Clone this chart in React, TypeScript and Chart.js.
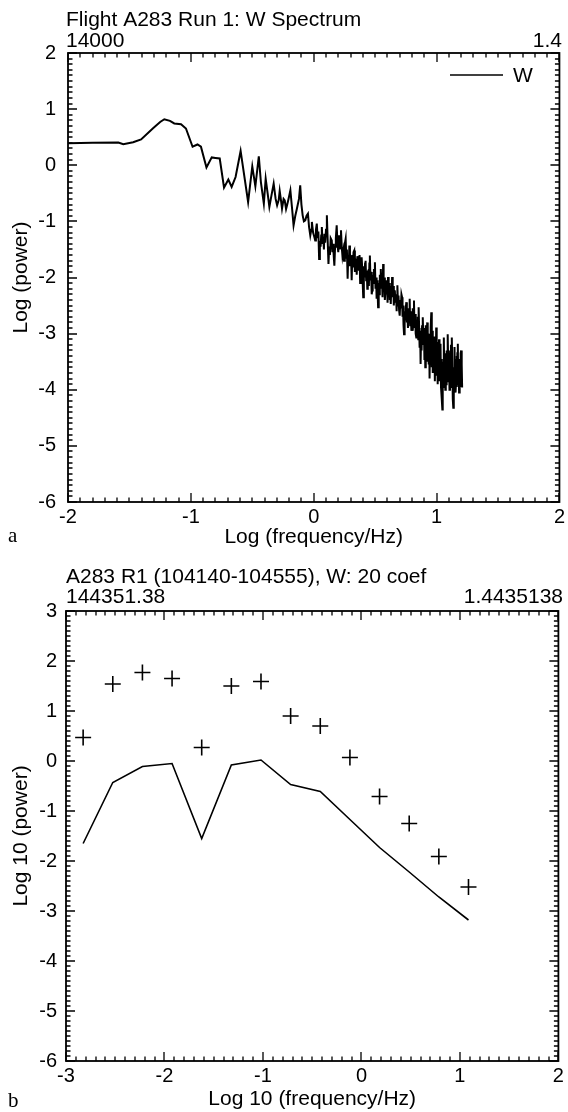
import React, { useEffect, useRef } from "react";
import { Chart, registerables } from "chart.js";

Chart.register(...registerables);

const SANS = '"Liberation Sans", Arial, Helvetica, sans-serif';
const SERIF = '"Liberation Serif", "DejaVu Serif", Times, serif';

// ---------- Panel a: W spectrum (log frequency vs log power) ----------
const wLogFreq = [
  -2.0, -1.8, -1.59, -1.55, -1.47, -1.405, -1.31, -1.25, -1.216, -1.17,
  -1.135, -1.08, -1.04, -0.986, -0.946, -0.918, -0.873, -0.83, -0.8, -0.765,
  -0.73, -0.695, -0.668, -0.636, -0.595, -0.534, -0.5, -0.475, -0.447, -0.43,
  -0.406, -0.391, -0.375, -0.361, -0.345, -0.326, -0.31, -0.298, -0.285, -0.277,
  -0.265, -0.258, -0.245, -0.236, -0.225, -0.217, -0.205, -0.19, -0.175, -0.164,
  -0.15, -0.137, -0.12, -0.11, -0.1, -0.09, -0.08, -0.069, -0.058, -0.047,
  -0.038, -0.028, -0.02, -0.015, -0.005, 0.005, 0.012, 0.018, 0.025, 0.032,
  0.038, 0.044, 0.05, 0.056, 0.061, 0.066, 0.072, 0.078, 0.083, 0.087,
  0.093, 0.1, 0.107, 0.113, 0.12, 0.126, 0.132, 0.138, 0.147, 0.152,
  0.158, 0.163, 0.168, 0.174, 0.18, 0.187, 0.193, 0.2, 0.206, 0.212,
  0.217, 0.222, 0.228, 0.234, 0.241, 0.247, 0.253, 0.26, 0.265, 0.27,
  0.276, 0.281, 0.286, 0.29, 0.295, 0.3, 0.305, 0.309, 0.314, 0.319,
  0.324, 0.33, 0.335, 0.34, 0.345, 0.35, 0.355, 0.36, 0.364, 0.368,
  0.373, 0.378, 0.383, 0.387, 0.39, 0.395, 0.399, 0.403, 0.408, 0.413,
  0.418, 0.422, 0.427, 0.432, 0.436, 0.44, 0.444, 0.449, 0.453, 0.457,
  0.462, 0.467, 0.472, 0.476, 0.48, 0.485, 0.49, 0.494, 0.498, 0.503,
  0.508, 0.512, 0.516, 0.52, 0.524, 0.529, 0.534, 0.538, 0.542, 0.546,
  0.551, 0.556, 0.56, 0.565, 0.569, 0.574, 0.579, 0.584, 0.588, 0.593,
  0.597, 0.601, 0.605, 0.61, 0.615, 0.619, 0.623, 0.627, 0.632, 0.635,
  0.638, 0.643, 0.648, 0.652, 0.656, 0.66, 0.665, 0.67, 0.675, 0.678,
  0.681, 0.686, 0.69, 0.695, 0.7, 0.705, 0.709, 0.714, 0.719, 0.723,
  0.727, 0.731, 0.735, 0.74, 0.744, 0.749, 0.754, 0.758, 0.762, 0.767,
  0.771, 0.776, 0.781, 0.785, 0.79, 0.795, 0.8, 0.804, 0.808, 0.812,
  0.816, 0.82, 0.825, 0.83, 0.835, 0.839, 0.843, 0.847, 0.851, 0.854,
  0.858, 0.862, 0.866, 0.87, 0.874, 0.878, 0.882, 0.886, 0.889, 0.893,
  0.897, 0.901, 0.905, 0.908, 0.912, 0.916, 0.92, 0.924, 0.928, 0.932,
  0.936, 0.94, 0.943, 0.947, 0.95, 0.954, 0.957, 0.961, 0.965, 0.969,
  0.973, 0.978, 0.982, 0.986, 0.99, 0.993, 0.997, 1.001, 1.005, 1.009,
  1.012, 1.016, 1.02, 1.024, 1.028, 1.032, 1.036, 1.04, 1.043, 1.047,
  1.05, 1.054, 1.059, 1.063, 1.067, 1.071, 1.075, 1.078, 1.082, 1.086,
  1.089, 1.092, 1.096, 1.1, 1.105, 1.109, 1.113, 1.117, 1.12, 1.124,
  1.128, 1.132, 1.136, 1.14, 1.143, 1.146, 1.15, 1.153, 1.156, 1.159,
  1.163, 1.166, 1.169, 1.173, 1.176, 1.18, 1.183, 1.186, 1.19, 1.193,
  1.196, 1.2, 1.203, 1.206, 1.208,
];
const wLogPower = [
  0.39, 0.4, 0.405, 0.375, 0.41, 0.46, 0.655, 0.77, 0.82, 0.79,
  0.745, 0.73, 0.655, 0.33, 0.37, 0.33, -0.04, 0.14, 0.13, 0.12,
  -0.4, -0.255, -0.385, -0.21, 0.255, -0.655, -0.02, -0.375, 0.16, -0.3,
  -0.684, -0.238, -0.5, -0.744, -0.55, -0.327, -0.6, -0.714, -0.62, -0.458,
  -0.65, -0.774, -0.6, -0.625, -0.78, -0.714, -0.6, -0.446, -0.8, -1.071,
  -0.9, -0.774, -0.6, -0.357, -0.7, -0.893, -1.0, -0.982, -0.9, -0.863,
  -1.1, -1.25, -1.15, -1.01, -1.2, -1.28, -1.34, -1.15, -1.04, -1.3,
  -1.18, -1.67, -1.35, -1.45, -1.25, -1.1, -1.4, -1.28, -1.5, -1.22,
  -1.38, -1.15, -0.89, -1.3, -1.76, -1.45, -1.6, -1.3, -1.34, -1.55,
  -1.4, -1.62, -1.79, -1.45, -1.3, -1.07, -1.4, -1.55, -1.25, -1.5,
  -1.35, -1.16, -1.45, -1.62, -1.52, -1.7, -1.4, -1.31, -1.65, -1.5,
  -2.02, -1.6, -1.75, -1.43, -1.8, -1.65, -1.72, -2.05, -1.6, -1.82,
  -1.55, -1.52, -1.9, -1.68, -1.7, -1.95, -1.62, -1.85, -1.74, -1.88,
  -1.6, -2.1, -1.78, -1.95, -1.64, -1.85, -2.12, -2.35, -1.8, -2.0,
  -1.75, -1.7, -2.05, -1.88, -2.2, -1.9, -1.88, -2.15, -1.75, -1.61,
  -2.05, -1.9, -2.3, -2.23, -1.95, -2.1, -1.85, -2.02, -1.73, -2.2,
  -2.0, -2.38, -2.05, -2.25, -2.53, -2.1, -2.3, -1.95, -2.15, -1.85,
  -2.2, -2.05, -2.35, -1.76, -2.1, -2.0, -2.4, -2.23, -2.05, -2.3,
  -2.12, -2.45, -1.99, -2.25, -2.1, -2.4, -2.2, -2.47, -2.15, -2.3,
  -1.99, -2.35, -2.15, -2.5, -2.28, -2.23, -2.45, -2.3, -2.6, -2.35,
  -2.14, -2.5, -2.32, -2.58, -2.68, -2.4, -2.55, -2.3, -2.35, -2.7,
  -2.5, -2.85, -3.01, -2.6, -2.75, -2.55, -2.44, -2.8, -2.62, -2.9,
  -2.55, -2.8, -2.38, -2.85, -2.6, -2.95, -2.83, -2.55, -2.95, -2.7,
  -2.41, -2.9, -2.65, -3.0, -3.07, -2.75, -3.05, -2.7, -3.1, -2.53,
  -2.9, -3.25, -2.95, -3.54, -3.0, -3.3, -2.85, -3.2, -2.71, -3.15,
  -2.9, -3.45, -3.0, -3.6, -2.85, -3.35, -3.05, -2.8, -3.5, -3.0,
  -3.55, -3.15, -3.8, -3.1, -3.5, -2.9, -2.62, -3.6, -2.95, -3.7,
  -3.1, -3.65, -3.05, -3.85, -3.2, -3.6, -2.89, -3.75, -3.15, -3.9,
  -3.25, -3.7, -3.1, -3.85, -3.3, -3.18, -3.95, -3.45, -4.14, -4.35,
  -3.5, -3.95, -3.07, -3.8, -3.35, -4.0, -3.4, -3.9, -3.3, -3.85,
  -3.2, -3.01, -3.75, -3.3, -4.0, -3.35, -3.85, -3.2, -3.95, -3.07,
  -3.6, -4.17, -4.32, -3.6, -3.9, -3.24, -3.95, -3.45, -4.05, -3.84,
  -3.4, -3.95, -3.35, -3.18, -3.9, -3.45, -4.05, -4.02, -3.5, -3.9,
  -3.35, -3.3, -3.95, -3.55, -3.96,
];

// ---------- Panel b: 20-coefficient estimate ----------
const bLogFreq = [-2.826, -2.525, -2.224, -1.923, -1.622, -1.321, -1.02, -0.719, -0.418, -0.117, 0.184, 0.485, 0.786, 1.087];
const bCoefPower = [0.47, 1.54, 1.77, 1.65, 0.27, 1.5, 1.59, 0.9, 0.7, 0.07, -0.71, -1.25, -1.91, -2.52];
const bLinePower = [-1.65, -0.43, -0.11, -0.05, -1.55, -0.08, 0.02, -0.47, -0.61, -1.17, -1.73, -2.22, -2.72, -3.18];

const W = 568;
const H = 556;

const framePlugin = {
  id: "frame",
  afterDraw(chart: any) {
    const o = chart.options.plugins.frame;
    if (!o) return;
    const { ctx, chartArea } = chart;
    const { left, right, top, bottom } = chartArea;
    const xs = chart.scales.x;
    const ys = chart.scales.y;
    ctx.save();
    ctx.strokeStyle = "#000";
    ctx.lineWidth = 1.3;
    ctx.beginPath();
    for (let i = Math.round(xs.min * 10); i <= Math.round(xs.max * 10); i++) {
      const px = Math.round(xs.getPixelForValue(i / 10));
      const len = i % 10 === 0 ? 9 : 4.5;
      ctx.moveTo(px, bottom);
      ctx.lineTo(px, bottom - len);
      ctx.moveTo(px, top);
      ctx.lineTo(px, top + len);
    }
    for (let i = Math.round(ys.min * 10); i <= Math.round(ys.max * 10); i++) {
      const py = Math.round(ys.getPixelForValue(i / 10));
      const len = i % 10 === 0 ? 9 : 4.5;
      ctx.moveTo(left, py);
      ctx.lineTo(left + len, py);
      ctx.moveTo(right, py);
      ctx.lineTo(right - len, py);
    }
    ctx.stroke();
    ctx.lineWidth = 1.8;
    ctx.strokeRect(left, top, right - left, bottom - top);

    ctx.fillStyle = "#000";
    ctx.textBaseline = "alphabetic";
    for (const t of o.texts) {
      ctx.font = t.font;
      ctx.textAlign = t.align;
      ctx.fillText(t.text, t.x, t.y);
    }
    if (o.legend) {
      const lg = o.legend;
      ctx.lineWidth = 1.5;
      ctx.beginPath();
      ctx.moveTo(lg.x1, lg.y);
      ctx.lineTo(lg.x2, lg.y);
      ctx.stroke();
      ctx.font = `21px ${SANS}`;
      ctx.textAlign = "left";
      ctx.textBaseline = "middle";
      ctx.fillText(lg.label, lg.x2 + 10, lg.y + 1);
    }
    ctx.restore();
  },
};

function makeConfig(p: any) {
  const tickFont = { family: SANS, size: 20 };
  const titleFont = { family: SANS, size: 21 };
  return {
    type: "scatter",
    data: { datasets: p.datasets },
    options: {
      responsive: false,
      maintainAspectRatio: false,
      animation: false,
      events: [],
      layout: {
        padding: { left: 0, top: p.area.top, right: W - p.area.right, bottom: 0 },
      },
      plugins: {
        legend: { display: false },
        tooltip: { enabled: false },
        title: { display: false },
        frame: { texts: p.texts, legend: p.legend },
      },
      scales: {
        x: {
          type: "linear",
          min: p.xMin,
          max: p.xMax,
          afterFit: (s: any) => {
            s.height = H - p.area.bottom;
          },
          grid: { display: false, drawTicks: false },
          border: { display: false },
          ticks: { stepSize: 1, color: "#000", font: tickFont, padding: 3, maxRotation: 0 },
          title: {
            display: true,
            text: p.xTitle,
            color: "#000",
            font: titleFont,
            padding: { top: 0, bottom: p.xTitlePad },
          },
        },
        y: {
          type: "linear",
          min: p.yMin,
          max: p.yMax,
          afterFit: (s: any) => {
            s.width = p.area.left;
          },
          grid: { display: false, drawTicks: false },
          border: { display: false },
          ticks: { stepSize: 1, color: "#000", font: tickFont, padding: p.yTickPad },
          title: {
            display: true,
            text: p.yTitle,
            color: "#000",
            font: titleFont,
            padding: { top: 9, bottom: 0 },
          },
        },
      },
    },
    plugins: [framePlugin],
  };
}

function Panel({ config, top }: { config: any; top: number }) {
  const ref = useRef<HTMLCanvasElement>(null);
  useEffect(() => {
    const chart = new Chart(ref.current as HTMLCanvasElement, config);
    return () => chart.destroy();
  }, []);
  return (
    <canvas
      ref={ref}
      width={W}
      height={H}
      style={{ position: "absolute", left: 0, top, width: W, height: H }}
    />
  );
}

export default function App() {
  const configA = makeConfig({
    area: { left: 68, right: 562, top: 53, bottom: 502 },
    xMin: -2,
    xMax: 2,
    yMin: -6,
    yMax: 2,
    xTitle: "Log (frequency/Hz)",
    yTitle: "Log (power)",
    xTitlePad: 6,
    yTickPad: 12,
    datasets: [
      {
        label: "W",
        data: wLogFreq.map((x, i) => ({ x, y: wLogPower[i] })),
        showLine: true,
        borderColor: "#000",
        borderWidth: 2,
        pointRadius: 0,
        tension: 0,
      },
    ],
    texts: [
      { text: "Flight A283 Run 1: W Spectrum", x: 66, y: 26, align: "left", font: `21px ${SANS}` },
      { text: "14000", x: 66, y: 47, align: "left", font: `21px ${SANS}` },
      { text: "1.4", x: 562, y: 47, align: "right", font: `21px ${SANS}` },
      { text: "a", x: 8, y: 542, align: "left", font: `21px ${SERIF}` },
    ],
    legend: { x1: 450, x2: 503, y: 75, label: "W" },
  });

  const configB = makeConfig({
    area: { left: 66, right: 563, top: 55, bottom: 505 },
    xMin: -3,
    xMax: 2,
    yMin: -6,
    yMax: 3,
    xTitle: "Log 10 (frequency/Hz)",
    yTitle: "Log 10 (power)",
    xTitlePad: 0,
    yTickPad: 9,
    datasets: [
      {
        label: "estimate",
        data: bLogFreq.map((x, i) => ({ x, y: bLinePower[i] })),
        showLine: true,
        borderColor: "#000",
        borderWidth: 1.6,
        pointRadius: 0,
        tension: 0,
      },
      {
        label: "coef",
        data: bLogFreq.map((x, i) => ({ x, y: bCoefPower[i] })),
        showLine: false,
        pointStyle: "cross",
        pointRadius: 8,
        pointBorderWidth: 1.6,
        pointBorderColor: "#000",
        borderColor: "#000",
      },
    ],
    texts: [
      { text: "A283 R1 (104140-104555), W: 20 coef", x: 66, y: 27, align: "left", font: `21px ${SANS}` },
      { text: "144351.38", x: 66, y: 47, align: "left", font: `21px ${SANS}` },
      { text: "1.4435138", x: 563, y: 47, align: "right", font: `21px ${SANS}` },
      { text: "b", x: 8, y: 551, align: "left", font: `21px ${SERIF}` },
    ],
  });

  return (
    <div style={{ position: "absolute", left: 0, top: 0, width: W, height: 1112, background: "#fff" }}>
      <Panel config={configA} top={0} />
      <Panel config={configB} top={H} />
    </div>
  );
}
